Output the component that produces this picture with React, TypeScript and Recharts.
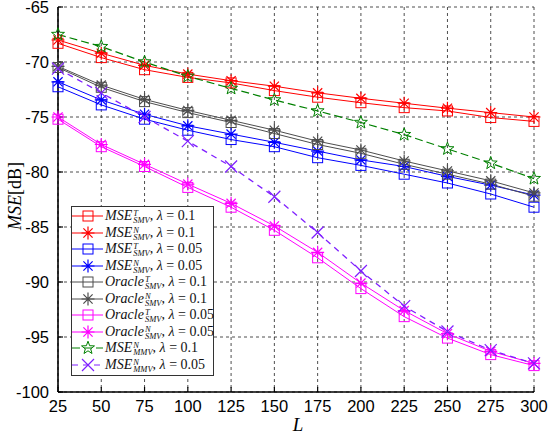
import React from 'react';
import { LineChart, Line, XAxis, YAxis, CartesianGrid, Legend } from 'recharts';

// window length L
const xs = [25, 50, 75, 100, 125, 150, 175, 200, 225, 250, 275, 300];
const yTicks = [-100, -95, -90, -85, -80, -75, -70, -65];

const mseT01 = [-68.3, -69.6, -70.7, -71.4, -71.9, -72.6, -73.2, -73.7, -74.15, -74.45, -75.05, -75.4];
const mseN01 = [-68.0, -69.2, -70.3, -71.1, -71.7, -72.2, -72.8, -73.3, -73.75, -74.2, -74.6, -75.0];
const mseT005 = [-72.25, -73.9, -75.2, -76.2, -77.05, -77.7, -78.7, -79.4, -80.2, -81.0, -82.0, -83.2];
const mseN005 = [-71.8, -73.45, -74.75, -75.8, -76.55, -77.3, -78.1, -78.9, -79.5, -80.4, -81.2, -82.1];
const oracleT01 = [-70.5, -72.3, -73.6, -74.6, -75.5, -76.5, -77.5, -78.3, -79.3, -80.2, -81.1, -82.2];
const oracleN01 = [-70.4, -72.1, -73.4, -74.4, -75.3, -76.2, -77.2, -78.0, -79.0, -79.9, -80.8, -81.9];
const oracleT005 = [-75.2, -77.7, -79.5, -81.4, -83.2, -85.3, -87.8, -90.6, -93.15, -95.1, -96.6, -97.6];
const oracleN005 = [-75.0, -77.5, -79.3, -81.1, -82.85, -84.9, -87.3, -90.1, -92.6, -94.7, -96.3, -97.4];
const mmvN01 = [-67.5, -68.6, -70.0, -71.3, -72.4, -73.45, -74.45, -75.5, -76.6, -77.9, -79.2, -80.6];
const mmvN005 = [-70.6, -72.8, -75.0, -77.2, -79.5, -82.25, -85.5, -89.0, -92.2, -94.5, -96.2, -97.4];

type Shape = 'square' | 'asterisk' | 'star' | 'cross';

interface Series {
  key: string;
  name: string;
  sup: string;
  sub: string;
  lambda: string;
  color: string;
  shape: Shape;
  dash?: string;
  width?: number;
}

const series: Series[] = [
  { key: 'mseT01', name: 'MSE', sup: 'T', sub: 'SMV', lambda: '0.1', color: '#ff0000', shape: 'square' },
  { key: 'mseN01', name: 'MSE', sup: 'N', sub: 'SMV', lambda: '0.1', color: '#ff0000', shape: 'asterisk' },
  { key: 'mseT005', name: 'MSE', sup: 'T', sub: 'SMV', lambda: '0.05', color: '#0000ff', shape: 'square' },
  { key: 'mseN005', name: 'MSE', sup: 'N', sub: 'SMV', lambda: '0.05', color: '#0000ff', shape: 'asterisk' },
  { key: 'oracleT01', name: 'Oracle', sup: 'T', sub: 'SMV', lambda: '0.1', color: '#4d4d4d', shape: 'square' },
  { key: 'oracleN01', name: 'Oracle', sup: 'N', sub: 'SMV', lambda: '0.1', color: '#4d4d4d', shape: 'asterisk' },
  { key: 'oracleT005', name: 'Oracle', sup: 'T', sub: 'SMV', lambda: '0.05', color: '#ff00ff', shape: 'square' },
  { key: 'oracleN005', name: 'Oracle', sup: 'N', sub: 'SMV', lambda: '0.05', color: '#ff00ff', shape: 'asterisk' },
  { key: 'mmvN01', name: 'MSE', sup: 'N', sub: 'MMV', lambda: '0.1', color: '#008000', shape: 'star', dash: '8 4', width: 1.2 },
  { key: 'mmvN005', name: 'MSE', sup: 'N', sub: 'MMV', lambda: '0.05', color: '#7f1fff', shape: 'cross', dash: '6 5', width: 1.3 },
];

const chartData = xs.map((x, i) => ({
  x,
  mseT01: mseT01[i],
  mseN01: mseN01[i],
  mseT005: mseT005[i],
  mseN005: mseN005[i],
  oracleT01: oracleT01[i],
  oracleN01: oracleN01[i],
  oracleT005: oracleT005[i],
  oracleN005: oracleN005[i],
  mmvN01: mmvN01[i],
  mmvN005: mmvN005[i],
}));

const Marker = ({ cx, cy, shape, color }: { cx: number; cy: number; shape: Shape; color: string }) => {
  if (shape === 'square') {
    return <rect x={cx - 5} y={cy - 5} width={10} height={10} fill="none" stroke={color} strokeWidth={1} />;
  }
  if (shape === 'asterisk') {
    const r = 6.5;
    const d = r * 0.707;
    return (
      <path
        d={`M${cx},${cy - r}L${cx},${cy + r}M${cx - r},${cy}L${cx + r},${cy}M${cx - d},${cy - d}L${cx + d},${cy + d}M${cx - d},${cy + d}L${cx + d},${cy - d}`}
        stroke={color}
        strokeWidth={1.2}
        fill="none"
      />
    );
  }
  if (shape === 'cross') {
    const r = 6;
    return (
      <path
        d={`M${cx - r},${cy - r}L${cx + r},${cy + r}M${cx - r},${cy + r}L${cx + r},${cy - r}`}
        stroke={color}
        strokeWidth={1.2}
        fill="none"
      />
    );
  }
  // pentagram
  const pts: string[] = [];
  for (let k = 0; k < 10; k++) {
    const rr = k % 2 === 0 ? 6.8 : 2.8;
    const a = -Math.PI / 2 + (k * Math.PI) / 5;
    pts.push(`${(cx + rr * Math.cos(a)).toFixed(2)},${(cy + rr * Math.sin(a)).toFixed(2)}`);
  }
  return <polygon points={pts.join(' ')} fill="none" stroke={color} strokeWidth={1} />;
};

const MathLabel = ({ s }: { s: Series }) => (
  <span style={{ display: 'inline-flex', alignItems: 'center', whiteSpace: 'nowrap', height: 16 }}>
    <span style={{ fontStyle: 'italic' }}>{s.name}</span>
    <span
      style={{
        display: 'inline-flex',
        flexDirection: 'column',
        fontSize: 8.5,
        lineHeight: '7px',
        fontStyle: 'italic',
        marginLeft: 1,
        position: 'relative',
        top: 1,
      }}
    >
      <span>{s.sup}</span>
      <span>{s.sub}</span>
    </span>
    <span>,&nbsp;</span>
    <span style={{ fontStyle: 'italic' }}>λ</span>
    <span>&nbsp;=&nbsp;{s.lambda}</span>
  </span>
);

const LegendBox = () => (
  <div
    style={{
      border: '1px solid #333',
      background: '#fff',
      width: 141,
      height: 167,
      paddingTop: 1,
      boxSizing: 'content-box',
      fontFamily: '"Liberation Serif", serif',
      fontSize: 14,
      lineHeight: '16px',
      color: '#111',
    }}
  >
    {series.map((s) => (
      <div key={s.key} style={{ display: 'flex', alignItems: 'center', height: 16.5 }}>
        <svg width={32} height={16} style={{ flex: 'none' }}>
          <line x1={0} y1={8} x2={31} y2={8} stroke={s.color} strokeWidth={1} strokeDasharray={s.dash} />
          <Marker cx={16} cy={8} shape={s.shape} color={s.color} />
        </svg>
        <span style={{ marginLeft: 1 }}>
          <MathLabel s={s} />
        </span>
      </div>
    ))}
  </div>
);

const tickFont = { fontSize: 16.5, fill: '#000', fontFamily: '"Liberation Sans", Arial, sans-serif' };

export default function App() {
  return (
    <div style={{ position: 'absolute', left: 0, top: 0, width: 548, height: 436, background: '#fff' }}>
      <LineChart width={548} height={436} data={chartData} margin={{ top: 7, right: 14, left: 0, bottom: 0 }}>
        <CartesianGrid stroke="#222" strokeWidth={0.8} strokeDasharray="3 3" />
        <XAxis
          dataKey="x"
          type="number"
          domain={[25, 300]}
          ticks={xs}
          height={44}
          tick={tickFont}
          tickSize={-5}
          tickMargin={13}
          tickLine={{ stroke: '#000', strokeWidth: 1.2 }}
          axisLine={{ stroke: '#000', strokeWidth: 1.6 }}
          interval={0}
          label={{
            content: ({ viewBox }: any) => (
              <text
                x={viewBox.x + viewBox.width / 2 + 2}
                y={431}
                textAnchor="middle"
                fontFamily='"Liberation Serif", serif'
                fontStyle="italic"
                fontSize={19}
                fill="#000"
              >
                L
              </text>
            ),
          }}
        />
        <XAxis
          xAxisId="top"
          orientation="top"
          dataKey="x"
          type="number"
          domain={[25, 300]}
          ticks={xs}
          height={0}
          tick={() => <g />}
          tickSize={-5}
          tickLine={{ stroke: '#000', strokeWidth: 1.2 }}
          axisLine={{ stroke: '#000', strokeWidth: 1.6 }}
          interval={0}
        />
        <YAxis
          type="number"
          domain={[-100, -65]}
          ticks={yTicks}
          width={58}
          tick={tickFont}
          tickSize={-5}
          tickMargin={14}
          tickLine={{ stroke: '#000', strokeWidth: 1.2 }}
          axisLine={{ stroke: '#000', strokeWidth: 1.6 }}
          interval={0}
          label={{
            content: () => (
              <text
                x={21}
                y={196}
                transform="rotate(-90, 21, 196)"
                textAnchor="middle"
                fontFamily='"Liberation Serif", serif'
                fontSize={18}
                fill="#000"
              >
                <tspan fontStyle="italic">MSE</tspan>
                <tspan>[dB]</tspan>
              </text>
            ),
          }}
        />
        <YAxis
          yAxisId="right"
          orientation="right"
          type="number"
          domain={[-100, -65]}
          ticks={yTicks}
          width={0}
          tick={() => <g />}
          tickSize={-5}
          tickLine={{ stroke: '#000', strokeWidth: 1.2 }}
          axisLine={{ stroke: '#000', strokeWidth: 1.6 }}
          interval={0}
        />
        {series.map((s) => (
          <Line
            key={s.key}
            dataKey={s.key}
            stroke={s.color}
            strokeWidth={s.width ?? 1}
            strokeDasharray={s.dash}
            isAnimationActive={false}
            dot={(p: any) => <Marker key={`${s.key}-${p.index}`} cx={p.cx} cy={p.cy} shape={s.shape} color={s.color} />}
            activeDot={false}
          />
        ))}
        <Legend
          layout="horizontal"
          verticalAlign="middle"
          align="center"
          wrapperStyle={{ left: 71, top: 206, width: 'auto' }}
          content={() => <LegendBox />}
        />
      </LineChart>
    </div>
  );
}
